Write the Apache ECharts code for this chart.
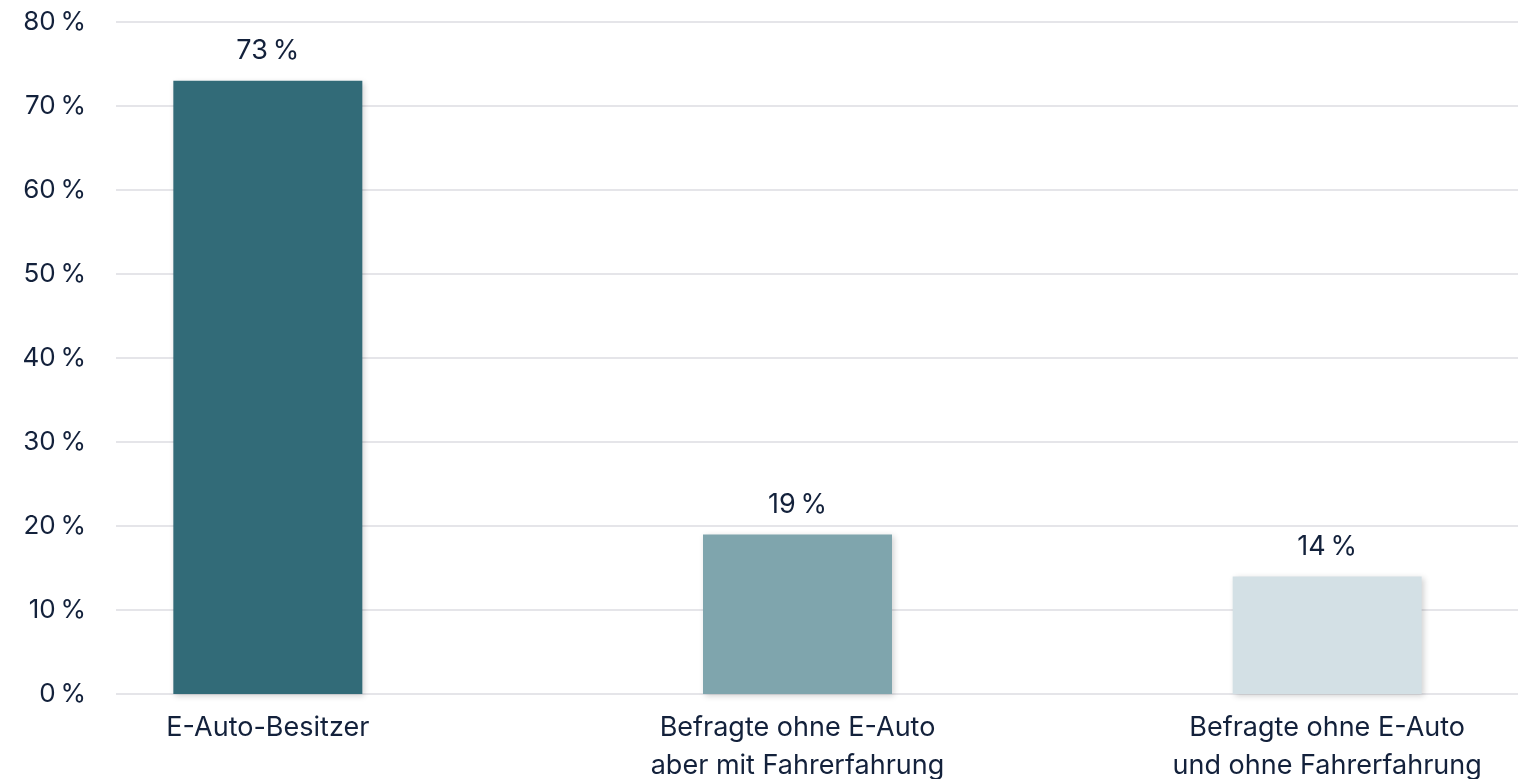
<!DOCTYPE html>
<html>
<head>
<meta charset="utf-8">
<script src="https://cdn.jsdelivr.net/npm/echarts@6/dist/echarts.min.js"></script>
<style>
  html, body { margin: 0; padding: 0; background: #fff; }
  #chart { width: 1518px; height: 779px; }
</style>
</head>
<body>
<div id="chart"></div>
<script>
// Kategorien und Werte
var categories = ['E-Auto-Besitzer', 'Befragte ohne E-Auto\naber mit Fahrerfahrung', 'Befragte ohne E-Auto\nund ohne Fahrerfahrung'];
var values = [73, 19, 14];
var barColors = ['#326b78', '#7fa5ad', '#d3e0e5'];
var yTicks = [0, 10, 20, 30, 40, 50, 60, 70, 80];

var textColor = '#13213b';
var fontFamily = 'Inter, "Noto Sans", sans-serif';

var chart = echarts.init(document.getElementById('chart'));

var option = {
  animation: false,
  grid: [
    // Raster + y-Achse
    { left: 116, right: 0, top: 22, bottom: 85, outerBoundsMode: 'none' },
    // Balken (breiter als die Seite, damit die Balken wie im Original sitzen)
    { left: 3, width: 1589, top: 22, bottom: 85, outerBoundsMode: 'none' }
  ],
  xAxis: [
    { gridIndex: 0, type: 'category', data: categories, show: false },
    {
      gridIndex: 1,
      type: 'category',
      data: categories,
      axisLine: { show: false },
      axisTick: { show: false },
      axisLabel: {
        interval: 0,
        color: textColor,
        fontFamily: fontFamily,
        fontSize: 27,
        lineHeight: 38,
        margin: 15
      }
    }
  ],
  yAxis: [
    {
      gridIndex: 0,
      type: 'value',
      min: yTicks[0],
      max: yTicks[yTicks.length - 1],
      interval: 10,
      axisLine: { show: false },
      axisTick: { show: false },
      axisLabel: {
        color: textColor,
        fontFamily: fontFamily,
        fontSize: 26,
        margin: 30,
        formatter: function (v) { return v + '\u202f%'; }
      },
      splitLine: { lineStyle: { color: '#dcdde2', width: 1.5 } }
    },
    {
      gridIndex: 1,
      type: 'value',
      min: yTicks[0],
      max: yTicks[yTicks.length - 1],
      show: false,
      splitLine: { show: false }
    }
  ],
  series: [{
    type: 'bar',
    xAxisIndex: 1,
    yAxisIndex: 1,
    barWidth: 189,
    data: values.map(function (v, i) {
      return { value: v, itemStyle: { color: barColors[i] } };
    }),
    itemStyle: {
      shadowColor: 'rgba(0,0,0,0.18)',
      shadowBlur: 6,
      shadowOffsetX: 2,
      shadowOffsetY: 2
    },
    label: {
      show: true,
      position: 'top',
      distance: 16,
      color: textColor,
      fontFamily: fontFamily,
      fontSize: 27,
      formatter: function (p) { return p.value + '\u202f%'; }
    }
  }]
};

chart.setOption(option);
</script>
</body>
</html>
